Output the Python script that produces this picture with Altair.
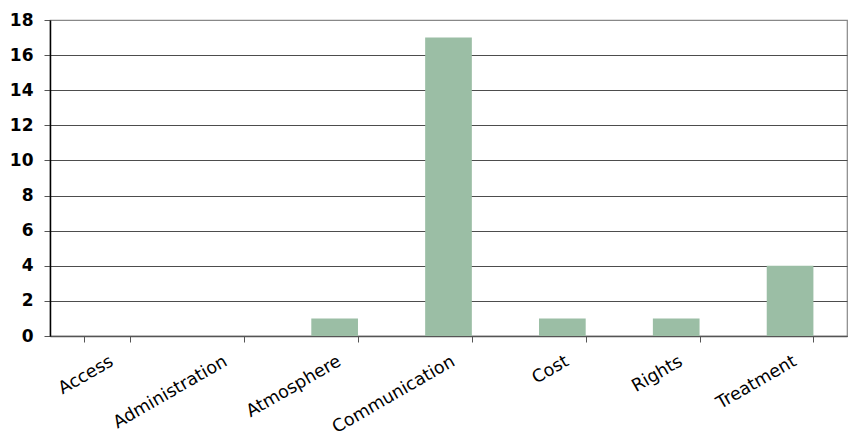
import altair as alt
import pandas as pd

# Number of comments per category
categories = ["Access", "Administration", "Atmosphere", "Communication", "Cost", "Rights", "Treatment"]
counts = [0, 0, 1, 17, 1, 1, 4]

df = pd.DataFrame({"category": categories, "count": counts})

chart = (
    alt.Chart(df)
    .mark_bar(color="#9BBEA5")
    .encode(
        x=alt.X(
            "category:N",
            sort=categories,
            title=None,
            scale=alt.Scale(paddingInner=0.59, paddingOuter=0.295),
            axis=alt.Axis(
                labelAngle=-30,
                labelAlign="right",
                labelBaseline="top",
                labelFont="DejaVu Sans",
                labelFontSize=17.5,
                labelColor="#000000",
                labelPadding=10,
                tickBand="extent",
                tickColor="#555555",
                tickSize=6,
                domainColor="#555555",
                domainWidth=1.5,
                grid=False,
            ),
        ),
        y=alt.Y(
            "count:Q",
            title=None,
            scale=alt.Scale(domain=[0, 18], nice=False),
            axis=alt.Axis(
                values=list(range(0, 19, 2)),
                labelFont="DejaVu Sans",
                labelFontWeight="bold",
                labelFontSize=17,
                labelColor="#000000",
                labelPadding=11,
                tickColor="#555555",
                tickSize=6,
                domainColor="#000000",
                domainWidth=1.5,
                gridColor=alt.condition("datum.value == 18", alt.value("#888888"), alt.value("#4d4d4d")),
                gridWidth=1.2,
            ),
        ),
    )
    .properties(
        width=797,
        height=316,
        autosize=alt.AutoSizeParams(type="none"),
        padding={"left": 50, "top": 20, "right": 1, "bottom": 99},
    )
    .configure_view(stroke="#888888", strokeWidth=1.2)
)

chart.save("out.html", embed_options={"renderer": "svg", "actions": False})
